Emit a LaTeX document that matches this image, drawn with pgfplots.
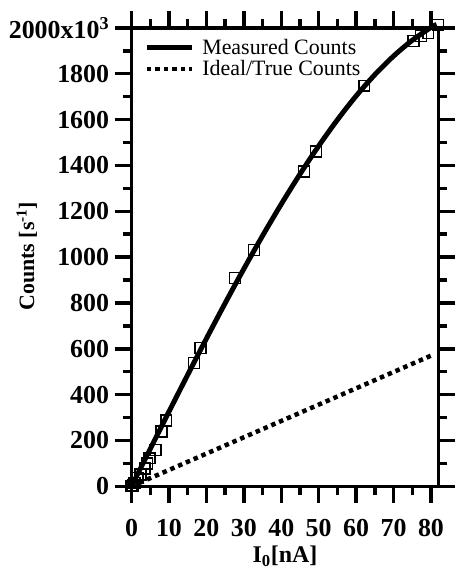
\documentclass[border=0pt]{standalone}
\usepackage{pgfplots}
\pgfplotsset{compat=1.18}
\usepackage{fontspec}
\setmainfont{Liberation Serif}

\begin{document}
\begin{tikzpicture}
\begin{axis}[
  scale only axis,
  width=308pt, height=460pt,
  xmin=0, xmax=82, ymin=0, ymax=2000,
  clip=false,
  axis line style={line width=3.5pt},
  tick style={line width=3.5pt, black},
  major tick length=17pt, minor tick length=9pt,
  xtick={0,10,...,80}, minor xtick={5,15,...,75},
  xticklabels={0,10,20,30,40,50,60,70,80},
  ytick={0,200,...,2000}, minor ytick={100,300,...,1900},
  yticklabels={0,200,400,600,800,1000,1200,1400,1600,1800,2000x10\textsuperscript{3}},
  ticklabel style={font=\fontsize{26}{26}\selectfont\bfseries},
  xticklabel style={yshift=-13pt},
  yticklabel style={xshift=-2pt},
  xlabel={\textbf{I\textsubscript{0}[nA]}},
  ylabel={\textbf{Counts [s\textsuperscript{-1}]}},
  xlabel style={font=\fontsize{24}{24}\selectfont, at={(axis description cs:0.5,-0.153)}, anchor=center},
  ylabel style={font=\fontsize{22}{22}\selectfont, at={(axis description cs:-0.341,0.502)}, anchor=center},
  legend style={at={(axis description cs:0.035,0.985)}, anchor=north west,
    draw=none, fill=none, font=\fontsize{22}{22}\selectfont,
    row sep=1pt, inner sep=2pt},
  legend cell align=left,
  legend image code/.code={\draw[#1] (0pt,0pt) -- (45pt,0pt); \path (51pt,0pt);},
  xtick align=outside, ytick align=outside,
]
% measured data points
\addplot[only marks, mark=square, mark size=5.5pt, mark options={line width=1.3pt}, forget plot]
  coordinates {
    (0,0) (0.3,4) (0.8,13) (1.6,35) (2.4,52) (3.5,78) (4.2,100) (4.8,122)
    (6.4,157) (8,239) (9.3,287) (16.7,539) (18.4,604) (27.7,909) (32.7,1030)
    (46,1374) (49.2,1461) (62.2,1748) (75.3,1943) (77.4,1965) (79.3,1978) (81.9,2013)
  };
% fitted measured curve
\addplot[black, line width=5pt, smooth]
  coordinates {
    (0,0) (2.5,81.7) (5,163.4) (7.5,244.7) (10,325.8) (15,486.5) (20,644.4)
    (25,798.8) (30,948.6) (35,1093) (40,1231) (45,1362) (50,1485) (55,1599)
    (60,1703) (65,1796) (70,1877) (75,1946) (80,2002) (81.5,2015)
  };
\addlegendentry{Measured Counts}
% ideal counts
\addplot[black, line width=4.5pt, dash pattern=on 4.5pt off 4pt]
  coordinates {(0,0) (80,570)};
\addlegendentry{Ideal/True Counts}
\end{axis}
\path (current axis.south west) ++(-132pt,-82pt) rectangle ++(456pt,570pt);
\end{tikzpicture}
\end{document}
